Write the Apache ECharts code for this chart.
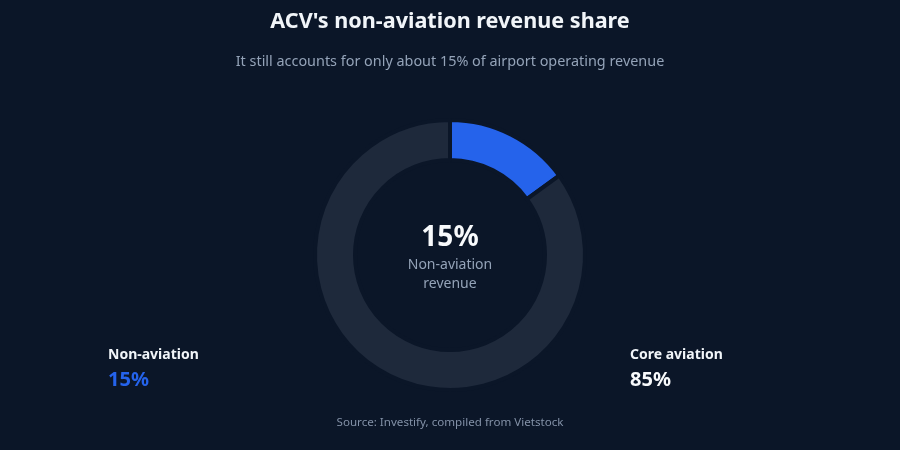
<!DOCTYPE html>
<html>
<head>
<meta charset="utf-8">
<script src="https://cdn.jsdelivr.net/npm/echarts@6/dist/echarts.min.js"></script>
<style>
html,body{margin:0;padding:0;background:#0b1628;}
#c{width:900px;height:450px;}
</style>
</head>
<body>
<div id="c"></div>
<script>
const categories = ['Non-aviation', 'Core aviation'];
const shares = [15, 85];
const titleText = "ACV's non-aviation revenue share";
const subtitleText = 'It still accounts for only about 15% of airport operating revenue';
const centerLabel = ['Non-aviation', 'revenue'];
const sourceText = 'Source: Investify, compiled from Vietstock';

const BG = '#0b1628';
const colors = ['#2563eb', '#1e293b'];
const font = '"Noto Sans", "Open Sans", sans-serif';

const chart = echarts.init(document.getElementById('c'));
chart.setOption({
  backgroundColor: BG,
  animation: false,
  graphic: [
    { type: 'text', x: 450, y: 22, style: { text: titleText, fill: '#f1f5f9', font: 'bold 21.6px ' + font, align: 'center', verticalAlign: 'middle' } },
    { type: 'text', x: 450, y: 62, style: { text: subtitleText, fill: '#94a3b8', font: '14.4px ' + font, align: 'center', verticalAlign: 'middle' } },
    { type: 'text', x: 450, y: 238, style: { text: shares[0] + '%', fill: '#f8fafc', font: 'bold 28px ' + font, align: 'center', verticalAlign: 'middle' } },
    { type: 'text', x: 450, y: 265, style: { text: centerLabel[0], fill: '#94a3b8', font: '14px ' + font, align: 'center', verticalAlign: 'middle' } },
    { type: 'text', x: 450, y: 284, style: { text: centerLabel[1], fill: '#94a3b8', font: '14px ' + font, align: 'center', verticalAlign: 'middle' } },
    { type: 'text', x: 108, y: 355, style: { text: categories[0], fill: '#f1f5f9', font: 'bold 14px ' + font, align: 'left', verticalAlign: 'middle' } },
    { type: 'text', x: 108, y: 380, style: { text: shares[0] + '%', fill: colors[0], font: 'bold 20px ' + font, align: 'left', verticalAlign: 'middle' } },
    { type: 'text', x: 630, y: 355, style: { text: categories[1], fill: '#f1f5f9', font: 'bold 14px ' + font, align: 'left', verticalAlign: 'middle' } },
    { type: 'text', x: 630, y: 380, style: { text: shares[1] + '%', fill: '#f8fafc', font: 'bold 20px ' + font, align: 'left', verticalAlign: 'middle' } },
    { type: 'text', x: 450, y: 423, style: { text: sourceText, fill: '#8391a7', font: '11.6px ' + font, align: 'center', verticalAlign: 'middle' } }
  ],
  series: [{
    type: 'pie',
    center: [450, 255],
    radius: [95, 135],
    startAngle: 90,
    clockwise: true,
    silent: true,
    label: { show: false },
    labelLine: { show: false },
    itemStyle: { borderColor: BG, borderWidth: 4 },
    data: categories.map((c, i) => ({ name: c, value: shares[i], itemStyle: { color: colors[i] } }))
  }]
});
</script>
</body>
</html>
